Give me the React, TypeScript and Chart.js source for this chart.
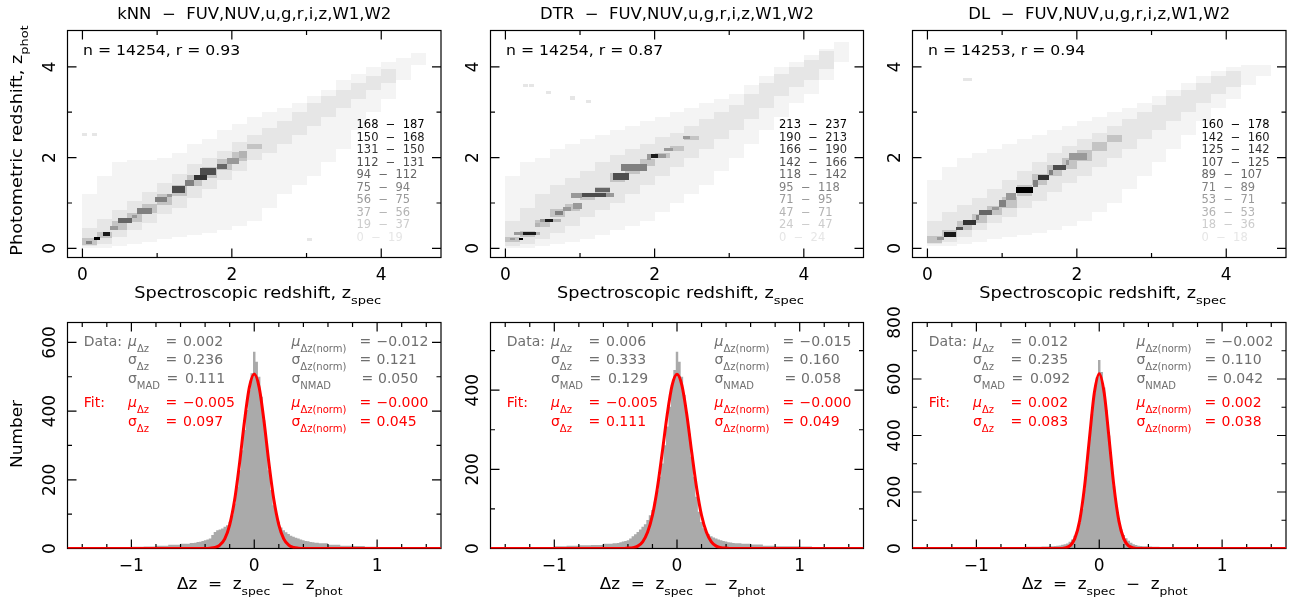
import React, { useEffect, useRef } from "react";
import { Chart, registerables } from "chart.js";
Chart.register(...registerables);

// ---------------- data ----------------
const methods = ["kNN", "DTR", "DL"];
const bandList = "FUV,NUV,u,g,r,i,z,W1,W2";
const nObjects = ["14254", "14254", "14253"];
const rValues = ["0.93", "0.87", "0.94"];

const legendKNN = ["168  −  187", "150  −  168", "131  −  150", "112  −  131", "94  −  112", "75  −  94", "56  −  75", "37  −  56", "19  −  37", "0  −  19"];
const legendDTR = ["213  −  237", "190  −  213", "166  −  190", "142  −  166", "118  −  142", "95  −  118", "71  −  95", "47  −  71", "24  −  47", "0  −  24"];
const legendDL = ["160  −  178", "142  −  160", "125  −  142", "107  −  125", "89  −  107", "71  −  89", "53  −  71", "36  −  53", "18  −  36", "0  −  18"];

// column starts (z_spec) of the density map
const colStart = [0, 0.2, 0.4, 0.6, 0.8, 1.0, 1.2, 1.4, 1.6, 1.8, 2.0, 2.2, 2.4, 2.6, 2.8, 3.0, 3.2, 3.4, 3.6, 3.8, 4.0, 4.2, 4.4, 4.6];

// kNN density map
const knnSparseLo = [0.0, 0.0, 0.05, 0.1, 0.15, 0.2, 0.25, 0.3, 0.35, 0.4, 0.5, 0.6, 0.9, 1.2, 1.4, 1.6, 1.9, 2.2, 2.6, 3.0, 3.3, 3.7, 4.05, 0];
const knnSparseHi = [1.2, 1.6, 1.9, 1.95, 1.95, 2.0, 2.1, 2.3, 2.4, 2.6, 2.75, 2.9, 3.0, 3.1, 3.2, 3.35, 3.5, 3.7, 3.85, 4.0, 4.1, 4.2, 4.3, 0];
const knnLightLo = [0.05, 0.1, 0.25, 0.4, 0.55, 0.75, 0.9, 1.1, 1.3, 1.5, 1.7, 1.95, 2.1, 2.3, 2.5, 2.7, 2.9, 3.1, 3.3, 3.5, 3.65, 0, 0, 0];
const knnLightHi = [0.45, 0.65, 0.85, 1.05, 1.25, 1.45, 1.65, 1.85, 2.0, 2.15, 2.35, 2.5, 2.65, 2.8, 3.0, 3.2, 3.35, 3.5, 3.65, 3.8, 3.95, 0, 0, 0];
const knnRidge = [0.15, 0.3, 0.5, 0.68, 0.88, 1.08, 1.28, 1.5, 1.68, 1.85, 2.02, 2.25, 0, 0, 0, 0, 0, 0, 0, 0, 0, 0, 0, 0];
const knnMidHalf = [0.07, 0.07, 0.1, 0.1, 0.1, 0.12, 0.12, 0.12, 0.12, 0.12, 0.1, 0.05, 0, 0, 0, 0, 0, 0, 0, 0, 0, 0, 0, 0];
const knnDark = [
  [0.05, 0.13, 0.10, 0.16, 4], [0.15, 0.23, 0.18, 0.26, 9], [0.27, 0.37, 0.28, 0.36, 8], [0.37, 0.48, 0.40, 0.50, 3],
  [0.48, 0.66, 0.56, 0.66, 5], [0.66, 0.73, 0.66, 0.74, 3], [0.73, 0.93, 0.76, 0.90, 4], [0.97, 1.13, 1.03, 1.13, 4],
  [1.13, 1.20, 1.13, 1.20, 3], [1.20, 1.37, 1.21, 1.37, 6], [1.37, 1.49, 1.37, 1.50, 4], [1.49, 1.67, 1.50, 1.62, 7],
  [1.58, 1.79, 1.62, 1.78, 6], [1.80, 1.94, 1.76, 1.85, 5], [1.94, 2.10, 1.85, 2.00, 3], [2.10, 2.20, 2.00, 2.15, 2],
];
const knnSpots = [[0.0, 2.47], [0.13, 2.47], [3.0, 0.17]];

// DTR density map
const dtrSparseLo = [0.0, 0.0, 0.05, 0.1, 0.15, 0.2, 0.3, 0.4, 0.5, 0.6, 0.8, 1.0, 1.2, 1.4, 1.7, 2.0, 2.3, 2.6, 2.9, 3.2, 3.4, 3.7, 4.1, 0];
const dtrSparseHi = [1.6, 1.9, 2.0, 2.2, 2.3, 2.4, 2.5, 2.6, 2.7, 2.8, 2.9, 3.0, 3.1, 3.2, 3.3, 3.4, 3.6, 3.8, 4.0, 4.1, 4.25, 4.4, 4.55, 0];
const dtrLightLo = [0.05, 0.1, 0.2, 0.35, 0.5, 0.7, 0.85, 1.0, 1.2, 1.4, 1.6, 1.8, 2.0, 2.2, 2.4, 2.6, 2.85, 3.1, 3.35, 3.55, 3.7, 3.95, 0, 0];
const dtrLightHi = [0.6, 0.9, 1.2, 1.4, 1.55, 1.7, 1.9, 2.05, 2.2, 2.3, 2.45, 2.55, 2.7, 2.85, 3.0, 3.15, 3.4, 3.65, 3.85, 4.0, 4.15, 4.35, 0, 0];
const dtrRidge = [0.2, 0.32, 0.55, 0.78, 0.9, 1.15, 1.25, 1.56, 1.75, 1.9, 2.05, 2.2, 2.43, 0, 0, 0, 0, 0, 0, 0, 0, 0, 0, 0];
const dtrMidHalf = [0.05, 0.07, 0.07, 0.08, 0.08, 0.08, 0.1, 0.1, 0.1, 0.08, 0.06, 0.05, 0.04, 0, 0, 0, 0, 0, 0, 0, 0, 0, 0, 0];
const dtrDark = [
  [0.06, 0.13, 0.18, 0.24, 3], [0.18, 0.23, 0.18, 0.24, 9], [0.11, 0.24, 0.29, 0.37, 3], [0.24, 0.41, 0.29, 0.37, 8],
  [0.41, 0.46, 0.29, 0.37, 2], [0.39, 0.46, 0.47, 0.55, 2], [0.46, 0.53, 0.59, 0.65, 3], [0.53, 0.64, 0.59, 0.65, 8],
  [0.64, 0.75, 0.59, 0.65, 2], [0.66, 0.77, 0.74, 0.82, 4], [0.77, 0.88, 0.82, 0.92, 3], [0.90, 1.02, 0.86, 1.00, 3],
  [0.88, 1.02, 1.10, 1.22, 3], [1.02, 1.35, 1.13, 1.21, 6], [1.35, 1.45, 1.13, 1.21, 3], [1.20, 1.40, 1.25, 1.33, 5],
  [1.44, 1.66, 1.51, 1.66, 6], [1.55, 1.90, 1.70, 1.86, 4], [1.90, 1.95, 1.95, 2.07, 3], [1.95, 2.04, 1.99, 2.07, 8],
  [2.04, 2.15, 1.99, 2.07, 3], [2.13, 2.24, 2.14, 2.21, 3], [2.38, 2.47, 2.40, 2.47, 3],
];
const dtrSpots = [[0.24, 3.55], [0.31, 3.55], [0.55, 3.4], [0.86, 3.28], [1.08, 3.2]];

// DL density map
const dlSparseLo = [0.05, 0.05, 0.1, 0.15, 0.2, 0.25, 0.3, 0.35, 0.4, 0.5, 0.6, 0.8, 1.0, 1.3, 1.6, 1.9, 2.2, 2.5, 2.8, 3.1, 3.3, 3.6, 3.8, 0];
const dlSparseHi = [1.5, 1.8, 2.0, 2.1, 2.2, 2.3, 2.4, 2.5, 2.6, 2.7, 2.8, 2.9, 3.0, 3.1, 3.2, 3.35, 3.5, 3.65, 3.8, 3.9, 4.0, 4.05, 4.05, 0];
const dlLightLo = [0.1, 0.15, 0.25, 0.4, 0.55, 0.7, 0.9, 1.05, 1.25, 1.45, 1.6, 1.8, 2.0, 2.2, 2.4, 2.6, 2.8, 3.0, 3.2, 3.4, 3.55, 0, 0, 0];
const dlLightHi = [0.6, 0.8, 0.95, 1.1, 1.3, 1.5, 1.7, 1.9, 2.1, 2.25, 2.4, 2.55, 2.7, 2.85, 3.0, 3.15, 3.35, 3.5, 3.65, 3.8, 3.9, 0, 0, 0];
const dlRidge = [0.2, 0.33, 0.5, 0.65, 0.83, 1.02, 1.28, 1.52, 1.72, 1.88, 2.05, 2.25, 2.42, 0, 0, 0, 0, 0, 0, 0, 0, 0, 0, 0];
const dlMidHalf = [0.07, 0.08, 0.1, 0.1, 0.1, 0.12, 0.12, 0.12, 0.12, 0.12, 0.12, 0.1, 0.08, 0, 0, 0, 0, 0, 0, 0, 0, 0, 0, 0];
const dlDark = [
  [0.13, 0.22, 0.18, 0.26, 3], [0.22, 0.38, 0.26, 0.37, 8], [0.38, 0.47, 0.41, 0.48, 6], [0.47, 0.65, 0.52, 0.63, 7],
  [0.65, 0.69, 0.63, 0.74, 4], [0.69, 0.87, 0.74, 0.85, 5], [0.87, 0.96, 0.85, 0.92, 3], [0.96, 1.05, 0.92, 1.07, 4],
  [1.05, 1.19, 1.07, 1.22, 3], [1.19, 1.41, 1.22, 1.36, 9], [1.41, 1.48, 1.36, 1.51, 4], [1.48, 1.63, 1.51, 1.62, 7],
  [1.63, 1.68, 1.62, 1.73, 4], [1.68, 1.86, 1.73, 1.84, 6], [1.86, 1.90, 1.84, 1.95, 3], [1.90, 2.13, 1.95, 2.10, 3],
];
const dlSpots = [[0.47, 3.69], [0.53, 3.69]];

// histograms of Δz (bin centres and counts)
const histCenters = [-1.45, -1.35, -1.25, -1.15, -1.05, -0.95, -0.85, -0.75, -0.65, -0.55,
  -0.50, -0.48, -0.46, -0.44, -0.42, -0.40, -0.38, -0.36, -0.34, -0.32, -0.30, -0.28, -0.26, -0.24, -0.22,
  -0.20, -0.18, -0.16, -0.14, -0.12, -0.10, -0.08, -0.06, -0.04, -0.02,
  0.00, 0.02, 0.04, 0.06, 0.08, 0.10, 0.12, 0.14, 0.16, 0.18, 0.20, 0.22, 0.24, 0.26, 0.28,
  0.30, 0.32, 0.34, 0.36, 0.38, 0.40, 0.42, 0.44, 0.46, 0.48, 0.50,
  0.55, 0.65, 0.75, 0.85, 0.95, 1.05, 1.15, 1.25, 1.35, 1.45];
const histKNN = [0, 0, 1, 1, 3, 5, 6, 8, 11, 14,
  16, 17, 19, 20, 22, 24, 26, 29, 39, 48, 53, 55, 58, 63, 68, 78, 97, 131, 180, 228, 286, 345, 403, 461, 510,
  573, 544, 500, 442, 374, 306, 228, 170, 126, 97, 78, 61, 53, 47, 42, 37, 34, 31, 29, 26, 24, 22, 21, 19, 18, 17,
  15, 11, 8, 7, 5, 2, 1, 0, 0, 0];
const histDTR = [0, 0, 1, 2, 3, 6, 7, 8, 9, 12,
  13, 14, 16, 18, 19, 21, 25, 31, 36, 42, 48, 55, 61, 72, 84, 97, 118, 147, 181, 215, 261, 308, 358, 413, 451,
  497, 472, 434, 388, 341, 291, 232, 181, 131, 93, 67, 51, 42, 36, 31, 28, 25, 23, 21, 19, 18, 16, 15, 14, 13, 13,
  12, 10, 7, 6, 6, 5, 4, 1, 0, 0];
const histDL = [0, 0, 0, 1, 3, 4, 4, 5, 5, 6,
  6, 6, 7, 7, 7, 8, 8, 9, 10, 11, 13, 15, 18, 24, 32, 45, 60, 90, 140, 210, 290, 390, 475, 550, 605,
  667, 625, 570, 490, 400, 305, 220, 150, 100, 68, 48, 36, 27, 20, 15, 12, 10, 9, 8, 8, 7, 7, 6, 6, 6, 5,
  5, 4, 4, 3, 2, 1, 0, 0, 0, 0];

// Gaussian fit curves
const fitX = [-1.52, -0.48, -0.44, -0.40, -0.36, -0.32, -0.28, -0.24, -0.20, -0.16, -0.12, -0.08, -0.04, 0, 0.04, 0.08, 0.12, 0.16, 0.20, 0.24, 0.28, 0.32, 0.36, 0.40, 0.44, 0.48, 1.52];
const fitKNN = [0, 0, 0, 0, 1, 3, 10, 28, 69, 141, 247, 369, 469, 508, 469, 369, 247, 141, 69, 28, 10, 3, 1, 0, 0, 0, 0];
const fitDTR = [0, 0, 0, 1, 2, 6, 17, 41, 84, 153, 243, 338, 412, 440, 412, 338, 243, 153, 84, 41, 17, 6, 2, 1, 0, 0, 0];
const fitDL = [0, 0, 0, 0, 0, 0, 2, 9, 34, 97, 218, 389, 551, 619, 551, 389, 218, 97, 34, 9, 2, 0, 0, 0, 0, 0, 0];

const histYMax = [658, 571, 800];

// statistics text
const dataMu = ["0.002", "0.006", "0.012"];
const dataSig = ["0.236", "0.333", "0.235"];
const dataMad = ["0.111", "0.129", "0.092"];
const dataMuN = ["−0.012", "−0.015", "−0.002"];
const dataSigN = ["0.121", "0.160", "0.110"];
const dataNmad = ["0.050", "0.058", "0.042"];
const fitMu = ["−0.005", "−0.005", "0.002"];
const fitSig = ["0.097", "0.111", "0.083"];
const fitMuN = ["−0.000", "−0.000", "0.002"];
const fitSigN = ["0.045", "0.049", "0.038"];

// ticks
const topMajor = [0, 2, 4];
const topMinor = [1, 3];
const topLabels = ["0", "2", "4"];
const botXMajor = [-1, 0, 1];
const botXLabels = ["−1", "0", "1"];
const botXMinor = [-1.4, -1.2, -0.8, -0.6, -0.4, -0.2, 0.2, 0.4, 0.6, 0.8, 1.2, 1.4];
const botYMajor = [[0, 200, 400, 600], [0, 200, 400], [0, 200, 400, 600, 800]];
const botYMinor = [[100, 300, 500], [100, 300, 500], [100, 300, 500, 700]];

// ---------------- layout / style ----------------
const W = 1295, H = 605;
const COL_L = [67.5, 490.5, 912.5];
const COL_R = [441, 863.5, 1286];
const TOP_ROW = [30.5, 257.5];
const BOT_ROW = [322.5, 548.5];
const COL_W = 0.2;
const CELL = 0.0667;
const SPARSE = "#f4f4f4";
const MID = "#c4c4c4";
const HIST_GRAY = "#aaaaaa";
const DATA_GRAY = "#6f6f6f";
const RED = "#ff0000";
const FONT = '"DejaVu Sans"';

const heatMaps = [
  { sparseLo: knnSparseLo, sparseHi: knnSparseHi, lightLo: knnLightLo, lightHi: knnLightHi, ridge: knnRidge, mid: knnMidHalf, dark: knnDark, spots: knnSpots, legend: legendKNN },
  { sparseLo: dtrSparseLo, sparseHi: dtrSparseHi, lightLo: dtrLightLo, lightHi: dtrLightHi, ridge: dtrRidge, mid: dtrMidHalf, dark: dtrDark, spots: dtrSpots, legend: legendDTR },
  { sparseLo: dlSparseLo, sparseHi: dlSparseHi, lightLo: dlLightLo, lightHi: dlLightHi, ridge: dlRidge, mid: dlMidHalf, dark: dlDark, spots: dlSpots, legend: legendDL },
];
const hists = [histKNN, histDTR, histDL];
const fits = [fitKNN, fitDTR, fitDL];

function levelColor(k: number) {
  const g = Math.round(230 - k * 25.55);
  return `rgb(${g},${g},${g})`;
}

type Part = [string, number]; // 0 normal, 1 subscript, 2 italic
function fnt(size: number, italic = false) {
  return `${italic ? "italic " : ""}${size}px ${FONT}`;
}
function drawRich(ctx: CanvasRenderingContext2D, parts: Part[], x: number, y: number, size: number, opt: any = {}) {
  const stretch = opt.stretch ?? 1;
  const subSize = opt.subSize ?? size * 0.72;
  const subDrop = opt.subDrop ?? size * 0.42;
  ctx.save();
  ctx.translate(x, y);
  if (opt.rotate) ctx.rotate(-Math.PI / 2);
  ctx.scale(stretch, 1);
  ctx.fillStyle = opt.color ?? "#000";
  ctx.textBaseline = "alphabetic";
  ctx.textAlign = "left";
  const setF = (k: number) => { ctx.font = k === 1 ? fnt(subSize) : fnt(size, k === 2); };
  const widths = parts.map(([s, k]) => { setF(k); return ctx.measureText(s).width; });
  const total = widths.reduce((a, b) => a + b, 0);
  let cx = opt.align === "center" ? -total / 2 : opt.align === "right" ? -total : 0;
  parts.forEach(([s, k], i) => {
    setF(k);
    ctx.fillText(s, cx, k === 1 ? subDrop : 0);
    cx += widths[i];
  });
  ctx.restore();
}

function drawHeat(chart: any, h: any) {
  const { ctx, chartArea: a } = chart;
  const xs = chart.scales.x, ys = chart.scales.y;
  ctx.save();
  ctx.beginPath();
  ctx.rect(a.left, a.top, a.right - a.left, a.bottom - a.top);
  ctx.clip();
  const cell = (x0: number, x1: number, y0: number, y1: number, color: string) => {
    const l = Math.round(xs.getPixelForValue(x0)), r = Math.round(xs.getPixelForValue(x1));
    const t = Math.round(ys.getPixelForValue(y1)), b = Math.round(ys.getPixelForValue(y0));
    if (r > l && b > t) { ctx.fillStyle = color; ctx.fillRect(l, t, r - l, b - t); }
  };
  colStart.forEach((x0, i) => { if (h.sparseHi[i] > h.sparseLo[i]) cell(x0, x0 + COL_W, h.sparseLo[i], h.sparseHi[i], SPARSE); });
  h.spots.forEach(([sx, sy]: number[]) => cell(sx, sx + CELL, sy, sy + CELL, levelColor(0)));
  colStart.forEach((x0, i) => { if (h.lightHi[i] > h.lightLo[i]) cell(x0, x0 + COL_W, h.lightLo[i], h.lightHi[i], levelColor(0)); });
  colStart.forEach((x0, i) => { if (h.mid[i] > 0) cell(x0, x0 + COL_W, h.ridge[i] - h.mid[i], h.ridge[i] + h.mid[i], MID); });
  h.dark.forEach(([x0, x1, y0, y1, lv]: number[]) => cell(x0, x1, y0, y1, levelColor(lv)));
  ctx.restore();
}

function drawFrame(chart: any, t: any) {
  const { ctx, chartArea: a } = chart;
  const xs = chart.scales.x, ys = chart.scales.y;
  ctx.save();
  ctx.strokeStyle = "#000";
  ctx.lineWidth = 1.2;
  ctx.strokeRect(a.left, a.top, a.right - a.left, a.bottom - a.top);
  ctx.beginPath();
  const tx = (v: number, len: number) => {
    const p = xs.getPixelForValue(v);
    ctx.moveTo(p, a.bottom); ctx.lineTo(p, a.bottom - len);
    ctx.moveTo(p, a.top); ctx.lineTo(p, a.top + len);
  };
  const ty = (v: number, len: number) => {
    const p = ys.getPixelForValue(v);
    ctx.moveTo(a.left, p); ctx.lineTo(a.left + len, p);
    ctx.moveTo(a.right, p); ctx.lineTo(a.right - len, p);
  };
  t.xMaj.forEach((v: number) => tx(v, 9));
  t.xMin.forEach((v: number) => tx(v, 4.5));
  t.yMaj.forEach((v: number) => ty(v, 9));
  t.yMin.forEach((v: number) => ty(v, 4.5));
  ctx.stroke();
  ctx.restore();
}

function drawTickLabels(chart: any, t: any) {
  const { ctx, chartArea: a } = chart;
  const xs = chart.scales.x, ys = chart.scales.y;
  t.xMaj.forEach((v: number, i: number) => drawRich(ctx, [[t.xLab[i], 0]], xs.getPixelForValue(v), a.bottom + 22.5, 17, { align: "center" }));
  t.yMaj.forEach((v: number, i: number) => drawRich(ctx, [[t.yLab[i], 0]], a.left - 12.5, ys.getPixelForValue(v), 17, { align: "center", rotate: true }));
}

function topConfig(i: number) {
  const h = heatMaps[i];
  const ticks = { xMaj: topMajor, xMin: topMinor, yMaj: topMajor, yMin: topMinor, xLab: topLabels, yLab: topLabels };
  const plugin = {
    id: "panelTop" + i,
    beforeDatasetsDraw(chart: any) { drawHeat(chart, h); },
    afterDraw(chart: any) {
      const { ctx, chartArea: a } = chart;
      drawFrame(chart, ticks);
      drawTickLabels(chart, ticks);
      const cx = (a.left + a.right) / 2;
      drawRich(ctx, [[`${methods[i]}  −  ${bandList}`, 0]], cx, a.top - 12, 15, { align: "center", stretch: 1.1 });
      drawRich(ctx, [["n = " + nObjects[i] + ", r = " + rValues[i], 0]], a.left + 15.5, a.top + 24.5, 13.5, { stretch: 1.16 });
      h.legend.forEach((s: string, k: number) =>
        drawRich(ctx, [[s, 0]], a.right - 84.5, a.top + 97.8 + 12.52 * k, 11.5, { color: levelColor(9 - k), stretch: 1.0 }));
      drawRich(ctx, [["Spectroscopic redshift, z", 0], ["spec", 1]], cx + 3.5, a.bottom + 40, 15, { align: "center", stretch: 1.18, subSize: 11, subDrop: 6.5 });
      if (i === 0) {
        drawRich(ctx, [["Photometric redshift, z", 0], ["phot", 1]], 21.7, (a.top + a.bottom) / 2 - 3.5, 15, { align: "center", stretch: 1.18, rotate: true, subSize: 11, subDrop: 6.5 });
      }
    },
  };
  return {
    type: "scatter",
    data: { datasets: [] },
    options: {
      animation: false, responsive: false, devicePixelRatio: 1,
      layout: { padding: { left: COL_L[i], right: W - COL_R[i], top: TOP_ROW[0], bottom: H - TOP_ROW[1] } },
      scales: {
        x: { type: "linear", display: false, min: -0.2, max: 4.8 },
        y: { type: "linear", display: false, min: -0.2, max: 4.8 },
      },
      plugins: { legend: { display: false }, tooltip: { enabled: false } },
    },
    plugins: [plugin],
  };
}

function statLine(ctx: CanvasRenderingContext2D, sym: Part[], eqX: number, valX: number, val: string, x: number, y: number, color: string) {
  const o = { color, subSize: 10, subDrop: 6 };
  drawRich(ctx, sym, x, y, 14, o);
  drawRich(ctx, [["=", 0]], eqX, y, 14, o);
  drawRich(ctx, [[val, 0]], valX, y, 14, o);
}

function botConfig(i: number) {
  const ticks = {
    xMaj: botXMajor, xMin: botXMinor, yMaj: botYMajor[i], yMin: botYMinor[i],
    xLab: botXLabels, yLab: botYMajor[i].map((v) => String(v)),
  };
  const plugin = {
    id: "panelBot" + i,
    afterDatasetDraw(chart: any, args: any) { if (args.index === 1) drawFrame(chart, ticks); },
    afterDraw(chart: any) {
      const { ctx, chartArea: a } = chart;
      drawTickLabels(chart, ticks);
      const L = a.left, T = a.top;
      const rows = [T + 23, T + 41.8, T + 60.8, T + 84.8, T + 103.5];
      const mu: Part = ["μ", 2];
      const sg: Part = ["σ", 0];
      drawRich(ctx, [["Data:", 0]], L + 16.3, rows[0], 14, { color: DATA_GRAY });
      statLine(ctx, [mu, ["Δz", 1]], L + 98, L + 115.5, dataMu[i], L + 60.5, rows[0], DATA_GRAY);
      statLine(ctx, [sg, ["Δz", 1]], L + 98, L + 115.5, dataSig[i], L + 60.5, rows[1], DATA_GRAY);
      statLine(ctx, [sg, ["MAD", 1]], L + 99, L + 117.5, dataMad[i], L + 60.5, rows[2], DATA_GRAY);
      statLine(ctx, [mu, ["Δz(norm)", 1]], L + 292, L + 309, dataMuN[i], L + 224, rows[0], DATA_GRAY);
      statLine(ctx, [sg, ["Δz(norm)", 1]], L + 292, L + 309, dataSigN[i], L + 224, rows[1], DATA_GRAY);
      statLine(ctx, [sg, ["NMAD", 1]], L + 294, L + 310.5, dataNmad[i], L + 224, rows[2], DATA_GRAY);
      drawRich(ctx, [["Fit:", 0]], L + 16.3, rows[3], 14, { color: RED });
      statLine(ctx, [mu, ["Δz", 1]], L + 98, L + 115.5, fitMu[i], L + 60.5, rows[3], RED);
      statLine(ctx, [sg, ["Δz", 1]], L + 98, L + 115.5, fitSig[i], L + 60.5, rows[4], RED);
      statLine(ctx, [mu, ["Δz(norm)", 1]], L + 292, L + 309, fitMuN[i], L + 224, rows[3], RED);
      statLine(ctx, [sg, ["Δz(norm)", 1]], L + 292, L + 309, fitSigN[i], L + 224, rows[4], RED);
      const cx = (a.left + a.right) / 2;
      drawRich(ctx, [["Δz  =  z", 0], ["spec", 1], ["  −  z", 0], ["phot", 1]], cx + 5.5, a.bottom + 40, 15, { align: "center", stretch: 1.12, subSize: 11, subDrop: 6.5 });
      if (i === 0) {
        drawRich(ctx, [["Number", 0]], 21.7, (a.top + a.bottom) / 2 - 1.5, 15, { align: "center", stretch: 1.13, rotate: true });
      }
    },
  };
  return {
    type: "line",
    data: {
      datasets: [
        {
          data: fitX.map((x, j) => ({ x, y: fits[i][j] })),
          borderColor: RED, borderWidth: 3, pointRadius: 0, fill: false,
          cubicInterpolationMode: "monotone",
        },
        {
          data: histCenters.map((x, j) => ({ x, y: hists[i][j] })),
          borderColor: "rgba(0,0,0,0)", borderWidth: 0, pointRadius: 0,
          backgroundColor: HIST_GRAY, fill: "origin", stepped: "middle",
        },
      ],
    },
    options: {
      animation: false, responsive: false, devicePixelRatio: 1,
      layout: { padding: { left: COL_L[i], right: W - COL_R[i], top: BOT_ROW[0], bottom: H - BOT_ROW[1] } },
      scales: {
        x: { type: "linear", display: false, min: -1.52, max: 1.52 },
        y: { type: "linear", display: false, min: 0, max: histYMax[i] },
      },
      plugins: { legend: { display: false }, tooltip: { enabled: false } },
    },
    plugins: [plugin],
  };
}

function Panel({ make }: { make: () => any }) {
  const ref = useRef<HTMLCanvasElement>(null);
  useEffect(() => {
    const chart = new Chart(ref.current as HTMLCanvasElement, make());
    return () => chart.destroy();
  }, []);
  return <canvas ref={ref} width={W} height={H} style={{ position: "absolute", left: 0, top: 0, width: W, height: H }} />;
}

export default function App() {
  useEffect(() => { document.body.style.margin = "0"; }, []);
  return (
    <div style={{ position: "absolute", left: 0, top: 0, width: W, height: H, background: "#fff", overflow: "hidden" }}>
      {[0, 1, 2].map((i) => <Panel key={"t" + i} make={() => topConfig(i)} />)}
      {[0, 1, 2].map((i) => <Panel key={"b" + i} make={() => botConfig(i)} />)}
    </div>
  );
}
